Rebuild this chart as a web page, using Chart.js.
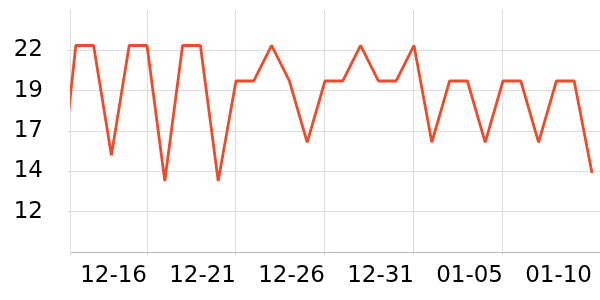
<!DOCTYPE html>
<html>
<head>
<meta charset="utf-8">
<script src="https://cdn.jsdelivr.net/npm/chart.js@4/dist/chart.umd.min.js"></script>
<style>
  html, body { margin: 0; padding: 0; background: #fff; }
</style>
</head>
<body>
<canvas id="myChart" width="600" height="300"></canvas>
<script>
// данные графика
const dates = [
  "12-11", "12-12", "12-13", "12-14", "12-15", "12-16", "12-17", "12-18",
  "12-19", "12-20", "12-21", "12-22", "12-23", "12-24", "12-25", "12-26",
  "12-27", "12-28", "12-29", "12-30", "12-31", "01-01", "01-02", "01-03",
  "01-04", "01-05", "01-06", "01-07", "01-08", "01-09", "01-10",
];
const temps = [
  12.0, 22.3, 22.3, 15.5, 22.3, 22.3, 13.9, 22.3,
  22.3, 13.9, 20.1, 20.1, 22.3, 20.1, 16.3, 20.1,
  20.1, 22.3, 20.1, 20.1, 22.3, 16.3, 20.1, 20.1,
  16.3, 20.1, 20.1, 16.3, 20.1, 20.1, 14.4,
];
const xTickDays = [5, 10, 15, 20, 25, 30];
const yTickValues = [12, 14.5, 17, 19.5, 22];

const xMin = 0.674;
const xMax = 30.45;

const font = { family: "DejaVu Sans", size: 23 };

document.addEventListener("DOMContentLoaded", function () {
  const ctx = document.getElementById("myChart").getContext("2d");

  new Chart(ctx, {
    type: "line",
    data: {
      datasets: [
        {
          data: temps.map((v, i) => ({ x: i, y: v })),
          borderColor: "#ee4b2b",
          borderWidth: 2.8,
          borderJoinStyle: "bevel",
          pointRadius: 0,
          tension: 0,
          fill: false,
          clip: 0,
        },
      ],
    },
    options: {
      responsive: false,
      animation: false,
      layout: { padding: { top: 10, right: 0, left: 0, bottom: 0 } },
      plugins: {
        legend: { display: false },
        tooltip: { enabled: false },
      },
      scales: {
        x: {
          type: "linear",
          min: xMin,
          max: xMax,
          afterBuildTicks: (scale) => {
            scale.ticks = [xMin, ...xTickDays].map((v) => ({ value: v }));
          },
          afterFit: (scale) => {
            scale.height = 48;
            scale.paddingLeft = 0;
            scale.paddingRight = 0;
          },
          ticks: {
            autoSkip: false,
            maxRotation: 0,
            align: "end",
            padding: 7,
            color: "#000",
            font: font,
            callback: (value) => (Number.isInteger(value) ? dates[value] : ""),
          },
          grid: {
            color: (c) => (c.tick && c.tick.value === 30 ? "rgba(0,0,0,0)" : "#dddddd"),
            tickLength: 3,
          },
          border: { color: "#bbbbbb", width: 1 },
        },
        y: {
          min: 9.5,
          max: 24.5,
          afterFit: (scale) => {
            scale.width = 70;
            scale.paddingTop = 0;
            scale.paddingBottom = 0;
          },
          ticks: {
            stepSize: 2.5,
            padding: 24,
            color: "#000",
            font: font,
            callback: (value) =>
              yTickValues.includes(value) ? String(Math.floor(value)) : "",
          },
          grid: {
            color: (c) =>
              c.tick && yTickValues.includes(c.tick.value) ? "#dddddd" : "rgba(0,0,0,0)",
            tickLength: 3,
          },
          border: { color: "#dddddd", width: 1 },
        },
      },
    },
  });
});
</script>
</body>
</html>
